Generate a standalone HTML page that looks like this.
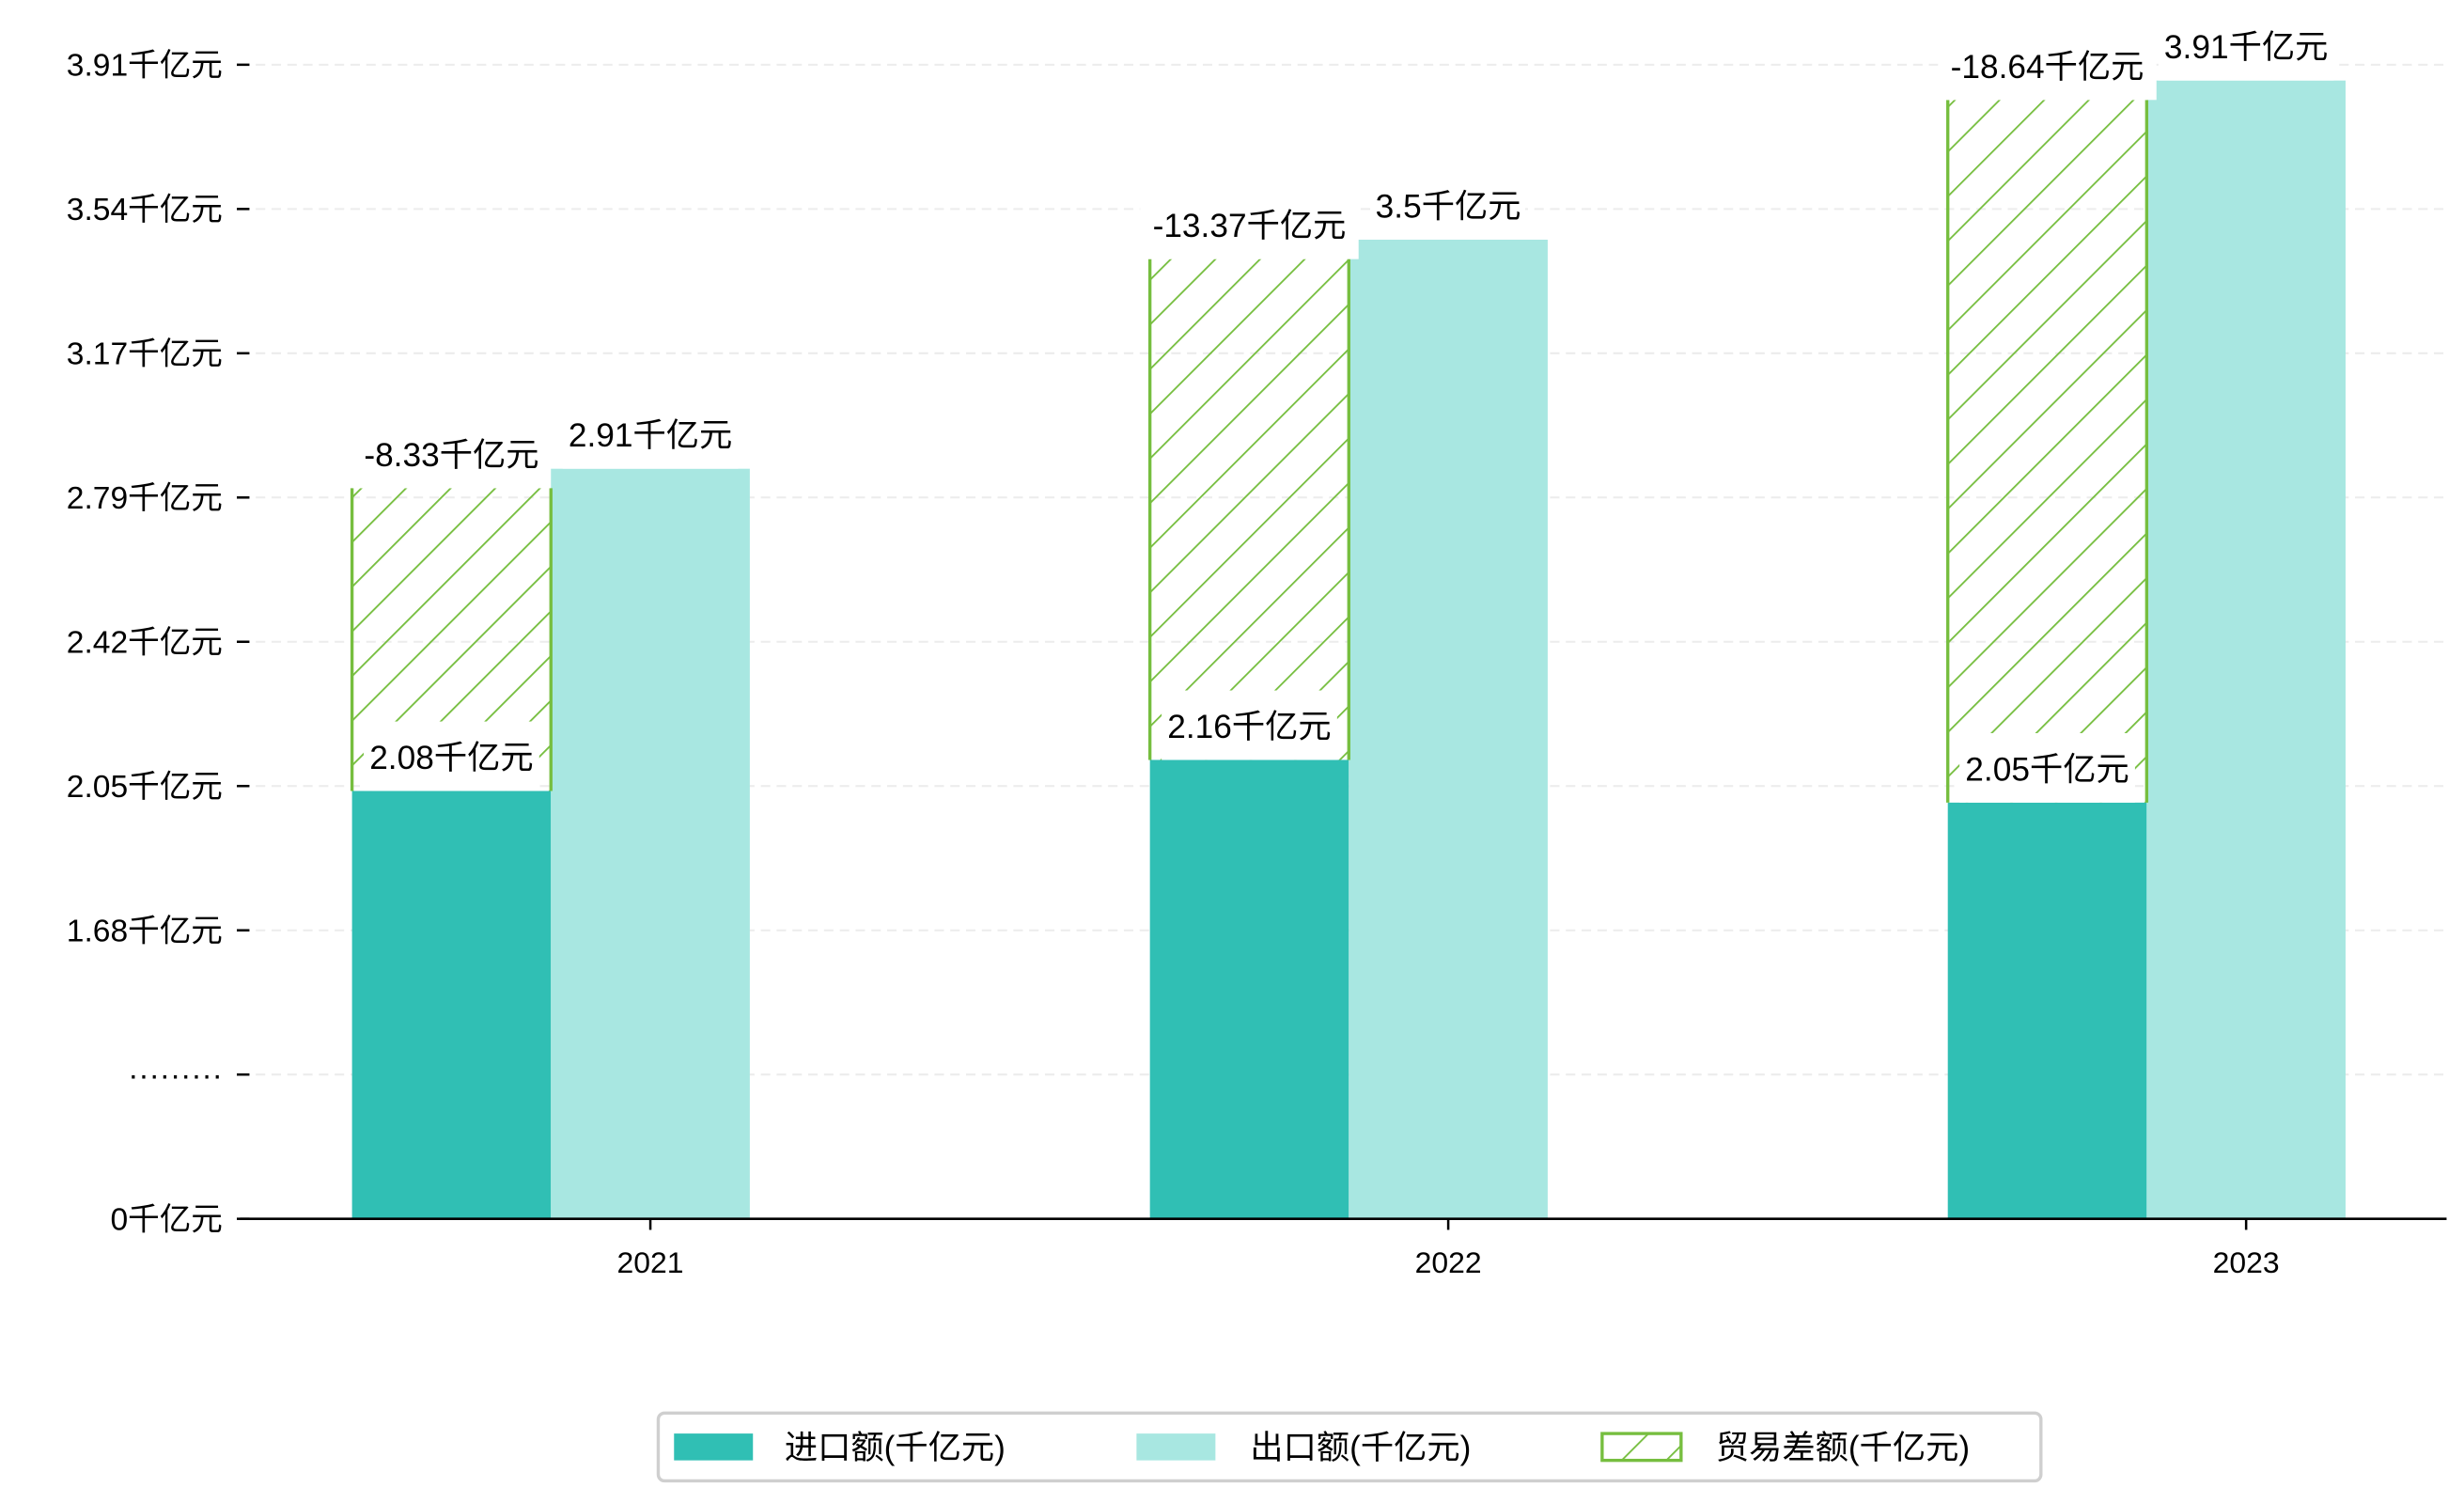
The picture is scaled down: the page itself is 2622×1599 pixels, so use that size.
<!DOCTYPE html>
<html><head><meta charset="utf-8"><style>
html,body{margin:0;padding:0;background:#fff;}
svg{display:block;font-family:"Liberation Sans","Noto Sans CJK SC",sans-serif;}
</style></head><body>
<svg id="chart" width="2622" height="1599" viewBox="0 0 1561 952" xmlns="http://www.w3.org/2000/svg">
<defs>
<pattern id="hatch" patternUnits="userSpaceOnUse" width="20" height="20" patternTransform="rotate(45)">
<line x1="0" y1="0" x2="0" y2="20" stroke="#76be3f" stroke-width="2.2"/>
</pattern>
</defs>
<g id="grid"></g>
<g id="bars"></g>
<g id="labels"></g>
<g id="axes"></g>
<g>
<rect x="417" y="895" width="876" height="43" rx="4" fill="#fff" stroke="#cfcfcf" stroke-width="2"/>
<rect x="427" y="908" width="50" height="17" fill="#30bfb4"/>
<text x="497" y="924" font-size="21">进口额(千亿元)</text>
<rect x="720" y="908" width="50" height="17" fill="#a8e7e1"/>
<text x="792" y="924" font-size="21">出口额(千亿元)</text>
<rect x="1015" y="908" width="50" height="17" fill="url(#hatch)" stroke="#76be3f" stroke-width="2"/>
<text x="1087" y="924" font-size="21">贸易差额(千亿元)</text>
</g>
</svg>
<script>
const categories = ["2021", "2022", "2023"];
const importVals = [2.08, 2.16, 2.05];
const exportVals = [2.91, 3.5, 3.91];
const balanceHeights = [0.78, 1.29, 1.81];
const balanceLabels = ["-8.33千亿元", "-13.37千亿元", "-18.64千亿元"];
const importLabels = ["2.08千亿元", "2.16千亿元", "2.05千亿元"];
const exportLabels = ["2.91千亿元", "3.5千亿元", "3.91千亿元"];
const yTickLabels = ["0千亿元", "·········", "1.68千亿元", "2.05千亿元", "2.42千亿元", "2.79千亿元", "3.17千亿元", "3.54千亿元", "3.91千亿元"];

const NS = "http://www.w3.org/2000/svg";
const baseY = 772, plotL = 152, plotR = 1550;
function xCenter(i){ return 412 + i * 505.5; }
function yVal(v){ return 501 - (v - 2.08) * 245.9; }
function yTick(i){ return baseY - i * 91.375; }
const bw = 126;
function mk(tag, attrs, parent){ const e = document.createElementNS(NS, tag); for (const k in attrs) e.setAttribute(k, attrs[k]); parent.appendChild(e); return e; }

const grid = document.getElementById('grid'), bars = document.getElementById('bars'), labels = document.getElementById('labels'), axes = document.getElementById('axes');

yTickLabels.forEach((t, i) => {
  const y = yTick(i);
  if (i > 0) {
    const g = mk('line', {x1: plotL, x2: plotR, y1: y, y2: y, stroke: '#ececec', 'stroke-width': 1.2, 'stroke-dasharray': '6,4'}, grid);
    
    
  }
  const tk = mk('line', {x1: 150, x2: 158, y1: y, y2: y, stroke: '#000', 'stroke-width': 1.5}, axes);
  
  
  const tx = mk('text', {x: 141, y: y + 7, 'font-size': 20, 'text-anchor': 'end'}, axes);
  tx.textContent = t;
  
  
});

function labelBox(text, cx, topY, name){
  const w = text.length * 13.6 + 4;
  const r = mk('rect', {x: cx - w/2 - 6, y: topY - 44, width: w + 12, height: 44, fill: '#fff'}, labels);
  
  
  const t = mk('text', {x: cx, y: topY - 14, 'font-size': 21, 'text-anchor': 'middle'}, labels);
  t.textContent = text;
  
  
}

categories.forEach((c, i) => {
  const cx = xCenter(i);
  const xe = cx - bw/2, xi = xe - bw;
  const yi = yVal(importVals[i]), ye = yVal(exportVals[i]);
  const r1 = mk('rect', {x: xi, y: yi, width: bw, height: baseY - yi, fill: '#30bfb4'}, bars);
  
  
  const r2 = mk('rect', {x: xe, y: ye, width: bw, height: baseY - ye, fill: '#a8e7e1'}, bars);
  
  
  const yb = yVal(importVals[i] + balanceHeights[i]);
  const r3 = mk('rect', {x: xi, y: yb, width: bw, height: yi - yb, fill: 'url(#hatch)'}, bars);
  
  
  const e1 = mk('line', {x1: xi, x2: xi, y1: yb, y2: yi, stroke: '#76be3f', 'stroke-width': 2}, bars);
  
  
  const e2 = mk('line', {x1: xi + bw, x2: xi + bw, y1: yb, y2: yi, stroke: '#76be3f', 'stroke-width': 2}, bars);
  
  
  labelBox(exportLabels[i], cx, ye, 'export-label-' + c);
  labelBox(balanceLabels[i], xi + bw/2, yb, 'balance-label-' + c);
  labelBox(importLabels[i], xi + bw/2, yi, 'import-label-' + c);
  const xt = mk('line', {x1: cx, x2: cx, y1: baseY, y2: baseY + 7, stroke: '#000', 'stroke-width': 1.5}, axes);
  
  
  const xl = mk('text', {x: cx, y: baseY + 34, 'font-size': 19, 'text-anchor': 'middle'}, axes);
  xl.textContent = c;
  
  
});
const ax = mk('line', {x1: plotL, x2: plotR, y1: baseY, y2: baseY, stroke: '#000', 'stroke-width': 1.6}, axes);


</script>
</body></html>
